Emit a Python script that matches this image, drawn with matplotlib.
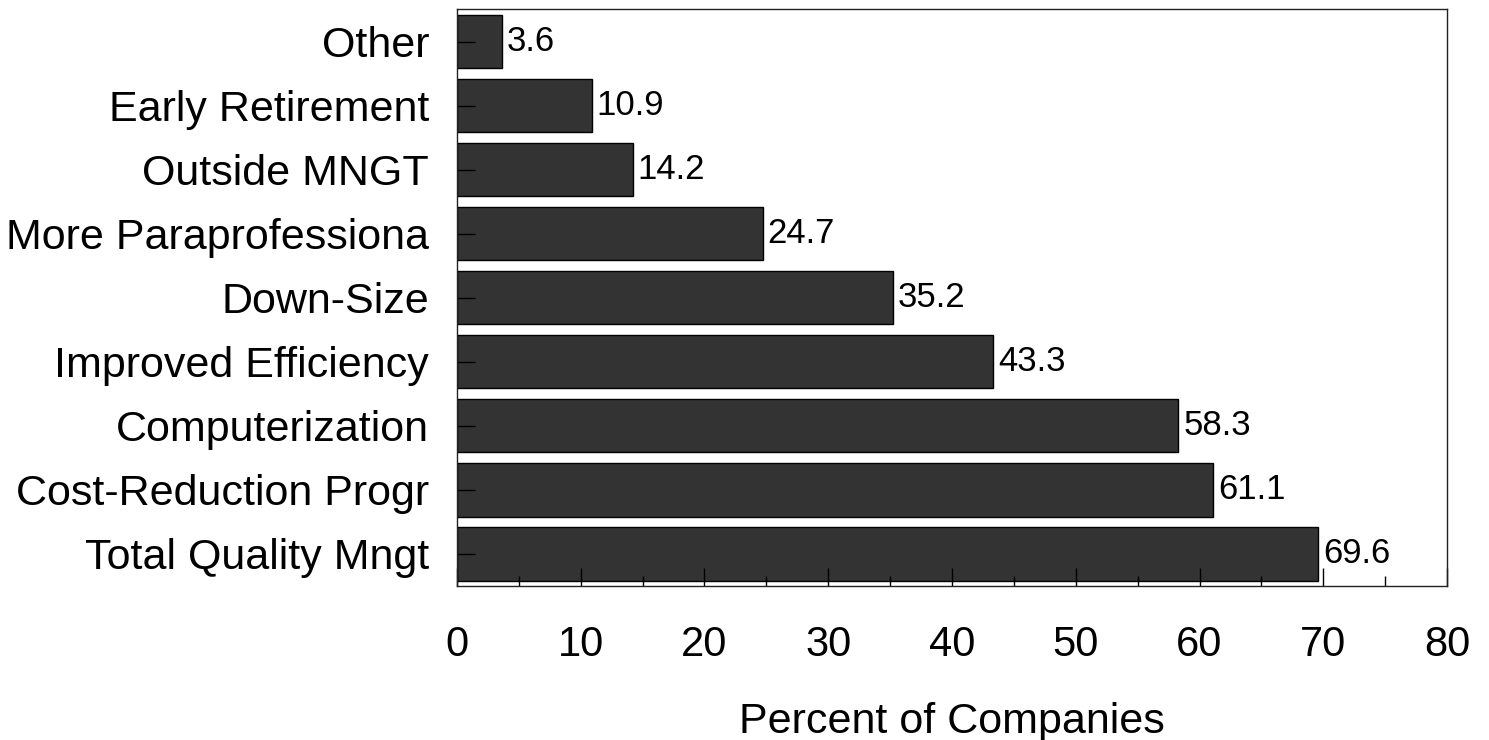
import matplotlib
matplotlib.use('Agg')
import matplotlib.pyplot as plt
from matplotlib.ticker import MultipleLocator

plt.rcParams['font.family'] = ['Liberation Sans', 'DejaVu Sans']

categories = ['Total Quality Mngt', 'Cost-Reduction Progr', 'Computerization',
              'Improved Efficiency', 'Down-Size', 'More Paraprofessiona',
              'Outside MNGT', 'Early Retirement', 'Other']
percents = [69.6, 61.1, 58.3, 43.3, 35.2, 24.7, 14.2, 10.9, 3.6]
xticks = [0, 10, 20, 30, 40, 50, 60, 70, 80]

fig = plt.figure(figsize=(14.89, 7.40), dpi=100, facecolor='white')
ax = fig.add_axes([0.3069, 0.2081, 0.6649, 0.7791])

ypos = list(range(len(categories)))
ax.barh(ypos, percents, height=0.83, color='#333333', edgecolor='black', linewidth=1.0)

for y, v in zip(ypos, percents):
    ax.text(v + 0.4, y, f'{v:.1f}', va='center', ha='left', fontsize=25)

ax.set_xlim(0, 80)
ax.set_ylim(-0.5, len(categories) - 0.5)
ax.set_xticks(xticks)
ax.xaxis.set_minor_locator(MultipleLocator(5))
ax.set_yticks(ypos)
ax.set_yticklabels(categories)

ax.tick_params(axis='x', which='major', direction='in', length=13, width=1,
               labelsize=30, pad=28)
ax.tick_params(axis='x', which='minor', direction='in', length=7, width=1)
ax.tick_params(axis='y', which='major', direction='in', length=13, width=1,
               labelsize=31, pad=20)

for s in ax.spines.values():
    s.set_linewidth(1.0)
    s.set_color('#222222')

ax.set_xlabel('Percent of Companies', fontsize=31, labelpad=27)

fig.savefig('out.png', dpi=100)
